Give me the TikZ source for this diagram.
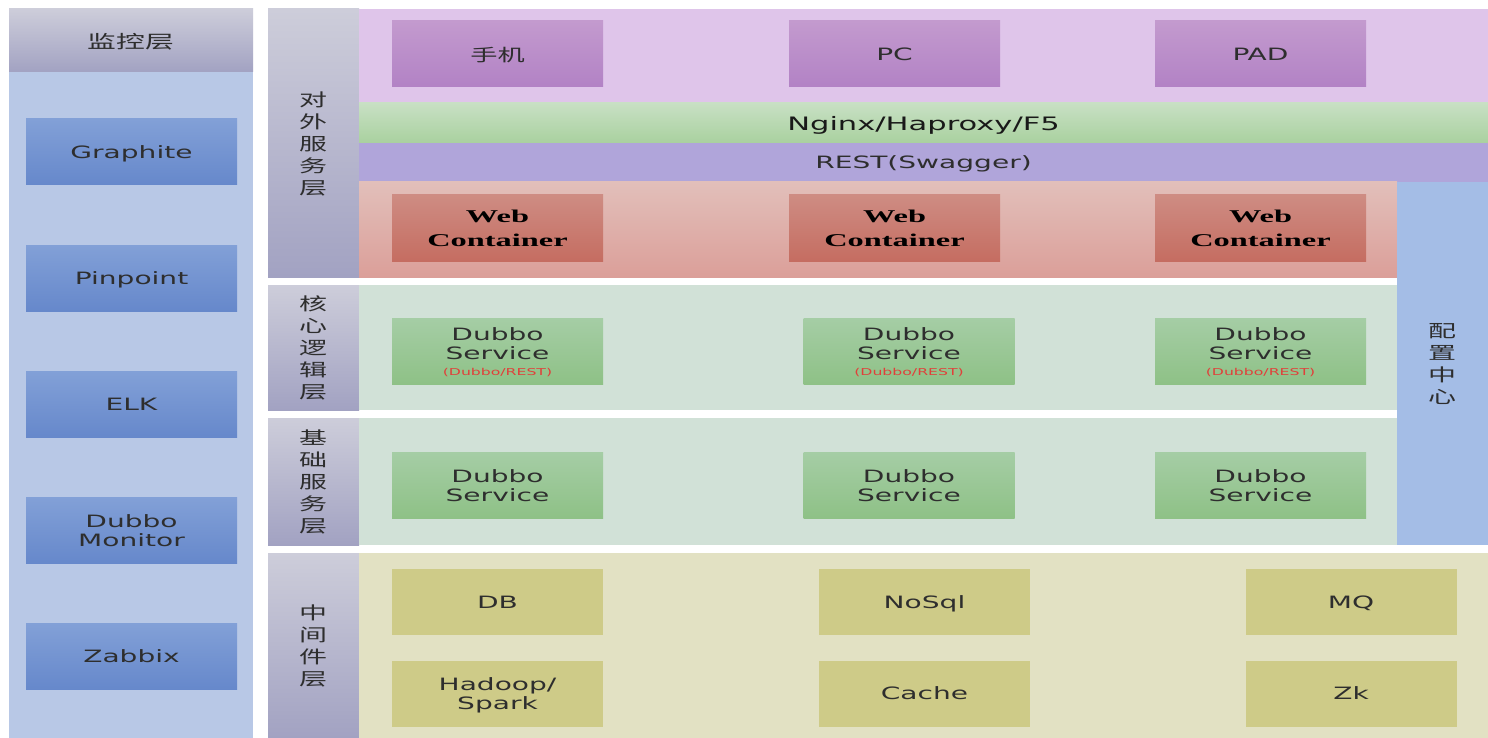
\documentclass[tikz,border=0pt]{standalone}
\usepackage{fontspec}
\setmainfont{DejaVu Sans}[FakeStretch=1.65]
\newfontfamily\cjk{Noto Sans CJK SC}[FakeStretch=1.6]
\newfontfamily\serifb{Liberation Serif}[FakeStretch=1.8]
\definecolor{txt}{HTML}{2E2E2E}
\definecolor{hdtop}{HTML}{CDCDDA}
\definecolor{hdbot}{HTML}{A2A2C2}
\definecolor{leftbg}{HTML}{B8C8E6}
\definecolor{lbtop}{HTML}{82A0D7}
\definecolor{lbbot}{HTML}{6688CB}
\definecolor{purbg}{HTML}{DFC5EA}
\definecolor{pbtop}{HTML}{C39ACE}
\definecolor{pbbot}{HTML}{B282C5}
\definecolor{ngtop}{HTML}{C8E0C4}
\definecolor{ngbot}{HTML}{A9D19F}
\definecolor{restbg}{HTML}{B0A5DA}
\definecolor{webtop}{HTML}{E2BFBA}
\definecolor{webbot}{HTML}{DB9F99}
\definecolor{wbtop}{HTML}{CE8C83}
\definecolor{wbbot}{HTML}{C56D61}
\definecolor{cfgbg}{HTML}{A4BDE6}
\definecolor{grnbg}{HTML}{D1E1D7}
\definecolor{gbtop}{HTML}{A5CDA5}
\definecolor{gbbot}{HTML}{8EC186}
\definecolor{midbg}{HTML}{E2E1C3}
\definecolor{midbox}{HTML}{CECB88}
\definecolor{subred}{HTML}{E0403A}
\newcommand{\fsz}[2]{\fontsize{#1}{#2}\selectfont}
\tikzset{
  panel/.style={draw=none, inner sep=0pt, outer sep=0pt, text depth=0pt},
  boxbase/.style={draw=none, inner sep=0pt, outer sep=0pt, minimum width=211pt, minimum height=66pt, align=center, text=txt, text depth=0pt, font=\fsz{17}{19}},
  monbox/.style={boxbase, top color=lbtop, bottom color=lbbot},
  devbox/.style={boxbase, top color=pbtop, bottom color=pbbot},
  webbox/.style={boxbase, top color=wbtop, bottom color=wbbot, text=black, font={\serifb\bfseries\fsz{18}{24}}},
  dubbox/.style={boxbase, top color=gbtop, bottom color=gbbot},
  midbx/.style={boxbase, fill=midbox},
  layerlabel/.style={panel, top color=hdtop, bottom color=hdbot, minimum width=91pt, align=center, text=txt, font={\cjk\fsz{17.5}{22}}},
}
\newcommand{\sub}[1]{\\[-3pt]{\color{subred}\fsz{9.5}{11}#1}}
\begin{document}
\begin{tikzpicture}[x=1pt,y=-1pt]
\useasboundingbox (0,0) rectangle (1488,738);
\fill[white] (0,0) rectangle (1488,738);
% left monitoring column
\node[panel, fill=leftbg, minimum width=244pt, minimum height=666pt] (leftbody) at (131,405) {};
\node[panel, top color=hdtop, bottom color=hdbot, minimum width=244pt, minimum height=63pt, text=txt, font={\cjk\fsz{18}{22}}] (lefthead) at (131,40.5) {监控层};
\node[monbox] (graphite) at (131.5,152) {Graphite};
\node[monbox] (pinpoint) at (131.5,278) {Pinpoint};
\node[monbox] (elk) at (131.5,404.5) {ELK};
\node[monbox] (dmon) at (131.5,530.5) {Dubbo\\Monitor};
\node[monbox] (zabbix) at (131.5,656.5) {Zabbix};
% layer labels
\node[layerlabel, minimum height=268pt] (lab1) at (313.5,143) {对\\外\\服\\务\\层};
\node[layerlabel, minimum height=125pt] (lab2) at (313.5,347.5) {核\\心\\逻\\辑\\层};
\node[layerlabel, minimum height=127pt] (lab3) at (313.5,481.5) {基\\础\\服\\务\\层};
\node[layerlabel, minimum height=185pt] (lab4) at (313.5,645.5) {中\\间\\件\\层};
% band backgrounds
\node[panel, fill=purbg, minimum width=1129pt, minimum height=94pt] (purarea) at (923.5,56) {};
\node[panel, top color=ngtop, bottom color=ngbot, minimum width=1129pt, minimum height=40pt, text=black!90, font=\fsz{18.5}{20}] (nginx) at (923.5,123) {Nginx/Haproxy/F5};
\node[panel, fill=restbg, minimum width=1129pt, minimum height=39pt, text=txt, font=\fsz{17}{20}] (rest) at (923.5,162.5) {REST(Swagger)};
\node[panel, top color=webtop, bottom color=webbot, minimum width=1038pt, minimum height=95pt] (webarea) at (878,229.5) {};
\node[panel, fill=grnbg, minimum width=1038pt, minimum height=125pt] (corearea) at (878,347.5) {};
\node[panel, fill=grnbg, minimum width=1038pt, minimum height=127pt] (basearea) at (878,481.5) {};
\node[panel, fill=cfgbg, minimum width=91pt, minimum height=363pt, align=center, text=txt, font={\cjk\fsz{17.5}{22}}] (config) at (1442.5,363.5) {配\\置\\中\\心};
\node[panel, fill=midbg, minimum width=1129pt, minimum height=185pt] (midarea) at (923.5,645.5) {};
% devices
\node[devbox, font={\cjk\fsz{17}{19}}] (phone) at (497.5,54) {手机};
\node[devbox] (pc) at (894.5,54) {PC};
\node[devbox] (pad) at (1260.5,54) {PAD};
% web containers
\node[webbox] (web1) at (497.5,228) {Web\\Container};
\node[webbox] (web2) at (894.5,228) {Web\\Container};
\node[webbox] (web3) at (1260.5,228) {Web\\Container};
% core logic
\node[dubbox] (core1) at (497.5,351.5) {Dubbo\\Service\sub{(Dubbo/REST)}};
\node[dubbox] (core2) at (909,351.5) {Dubbo\\Service\sub{(Dubbo/REST)}};
\node[dubbox] (core3) at (1260.5,351.5) {Dubbo\\Service\sub{(Dubbo/REST)}};
% base services
\node[dubbox] (base1) at (497.5,485.5) {Dubbo\\Service};
\node[dubbox] (base2) at (909,485.5) {Dubbo\\Service};
\node[dubbox] (base3) at (1260.5,485.5) {Dubbo\\Service};
% middleware
\node[midbx] (db) at (497.5,602) {DB};
\node[midbx] (nosql) at (924.5,602) {NoSql};
\node[midbx] (mq) at (1351,602) {MQ};
\node[midbx] (hadoop) at (497.5,693.5) {Hadoop/\\Spark};
\node[midbx] (cache) at (924.5,693.5) {Cache};
\node[midbx] (zk) at (1351,693.5) {Zk};
\end{tikzpicture}
\end{document}
